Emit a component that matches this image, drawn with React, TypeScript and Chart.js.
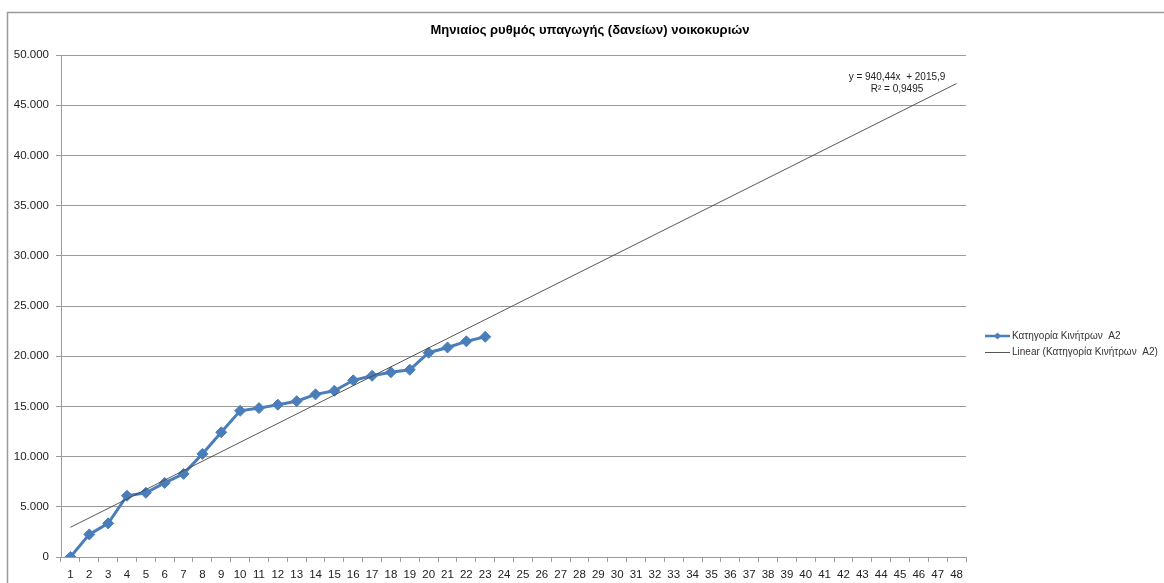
import React, { useEffect, useRef } from "react";
import { Chart, registerables } from "chart.js";

Chart.register(...registerables);

const TITLE = "Μηνιαίος ρυθμός υπαγωγής (δανείων) νοικοκυριών";
const SERIES_NAME = "Κατηγορία Κινήτρων  A2";
const TREND_NAME = "Linear (Κατηγορία Κινήτρων  A2)";
const EQUATION = "y = 940,44x  + 2015,9";
const R2 = "R² = 0,9495";

const categories: string[] = [
  "1", "2", "3", "4", "5", "6", "7", "8", "9", "10", "11", "12", "13", "14", "15", "16",
  "17", "18", "19", "20", "21", "22", "23", "24", "25", "26", "27", "28", "29", "30", "31", "32",
  "33", "34", "35", "36", "37", "38", "39", "40", "41", "42", "43", "44", "45", "46", "47", "48",
];

const seriesValues: number[] = [
  0, 2250, 3350, 6100, 6400, 7380, 8280, 10270, 12420, 14560, 14830, 15170,
  15520, 16200, 16560, 17600, 18050, 18400, 18650, 20350, 20870, 21480, 21930,
];

const trendX: string[] = ["1", "48"];
const trendY: number[] = [2956, 47157];

const yTicks = { min: 0, max: 50000, step: 5000 };

const fmt = (v: number) => String(v).replace(/\B(?=(\d{3})+(?!\d))/g, ".");

export default function App() {
  const ref = useRef<HTMLCanvasElement | null>(null);

  useEffect(() => {
    document.body.style.margin = "0";
    const canvas = ref.current;
    if (!canvas) return;

    const decor = {
      id: "decor",
      beforeDraw(chart: any) {
        const ctx = chart.ctx;
        ctx.save();
        ctx.fillStyle = "#ffffff";
        ctx.fillRect(0, 0, chart.width, chart.height);
        ctx.restore();
      },
      afterDraw(chart: any) {
        const ctx = chart.ctx;
        ctx.save();
        ctx.strokeStyle = "#9a9a9a";
        ctx.lineWidth = 1.5;
        ctx.beginPath();
        ctx.moveTo(7.5, chart.height + 2);
        ctx.lineTo(7.5, 12.5);
        ctx.lineTo(chart.width + 2, 12.5);
        ctx.stroke();

        ctx.fillStyle = "#000000";
        ctx.font = "bold 13px 'Liberation Sans', Arial, sans-serif";
        ctx.textAlign = "center";
        ctx.textBaseline = "middle";
        ctx.fillText(TITLE, 590, 30);

        ctx.font = "10px 'Liberation Sans', Arial, sans-serif";
        ctx.fillStyle = "#222222";
        ctx.fillText(EQUATION, 897, 77);
        ctx.fillText(R2, 897, 89);

        ctx.textAlign = "left";
        const lx0 = 985, lx1 = 1010;
        const y1 = 336, y2 = 352;
        ctx.strokeStyle = "#4A7EBB";
        ctx.lineWidth = 2.5;
        ctx.beginPath();
        ctx.moveTo(lx0, y1);
        ctx.lineTo(lx1, y1);
        ctx.stroke();
        ctx.fillStyle = "#4A7EBB";
        ctx.beginPath();
        const cx = (lx0 + lx1) / 2;
        ctx.moveTo(cx, y1 - 3.5);
        ctx.lineTo(cx + 3.5, y1);
        ctx.lineTo(cx, y1 + 3.5);
        ctx.lineTo(cx - 3.5, y1);
        ctx.closePath();
        ctx.fill();
        ctx.strokeStyle = "#555555";
        ctx.lineWidth = 1;
        ctx.beginPath();
        ctx.moveTo(lx0, y2 + 0.5);
        ctx.lineTo(lx1, y2 + 0.5);
        ctx.stroke();
        ctx.fillStyle = "#333333";
        ctx.fillText(SERIES_NAME, 1012, y1);
        ctx.fillText(TREND_NAME, 1012, y2);
        ctx.restore();
      },
    };

    const chart = new Chart(canvas, {
      type: "line",
      data: {
        labels: categories,
        datasets: [
          {
            label: TREND_NAME,
            data: trendX.map((x, i) => ({ x, y: trendY[i] })) as any,
            borderColor: "rgba(70,70,70,0.9)",
            borderWidth: 1,
            pointRadius: 0,
            pointHoverRadius: 0,
            fill: false,
            tension: 0,
            order: 0,
          },
          {
            label: SERIES_NAME,
            data: seriesValues,
            borderColor: "#4A7EBB",
            backgroundColor: "#4A7EBB",
            borderWidth: 3,
            pointStyle: "rectRot",
            pointRadius: 5.5,
            pointBorderWidth: 1,
            pointBorderColor: "#4A7EBB",
            pointBackgroundColor: "#4A7EBB",
            fill: false,
            tension: 0,
            order: 1,
          },
        ],
      },
      options: {
        responsive: false,
        animation: false,
        events: [],
        layout: { padding: { top: 55, right: 198, left: 0, bottom: 0 } },
        plugins: {
          legend: { display: false },
          title: { display: false },
          tooltip: { enabled: false },
        },
        scales: {
          x: {
            type: "category",
            offset: true,
            grid: {
              offset: true,
              drawOnChartArea: false,
              drawTicks: true,
              tickLength: 5,
              color: "#9a9a9a",
            },
            border: { display: true, color: "#9a9a9a" },
            ticks: {
              autoSkip: false,
              maxRotation: 0,
              minRotation: 0,
              padding: 6,
              color: "#222222",
              font: { family: "'Liberation Sans', Arial, sans-serif", size: 11.5 },
            },
            afterFit(scale: any) {
              scale.height = 26;
            },
          },
          y: {
            min: yTicks.min,
            max: yTicks.max,
            ticks: {
              stepSize: yTicks.step,
              padding: 7,
              color: "#222222",
              font: { family: "'Liberation Sans', Arial, sans-serif", size: 11.5 },
              callback: (v: any) => fmt(Number(v)),
            },
            grid: {
              color: "#9a9a9a",
              drawTicks: true,
              tickLength: 5,
            },
            border: { display: true, color: "#9a9a9a" },
            afterFit(scale: any) {
              scale.width = 61;
            },
          },
        },
      },
      plugins: [decor],
    });

    return () => chart.destroy();
  }, []);

  return <canvas ref={ref} width={1164} height={583} style={{ display: "block" }} />;
}
